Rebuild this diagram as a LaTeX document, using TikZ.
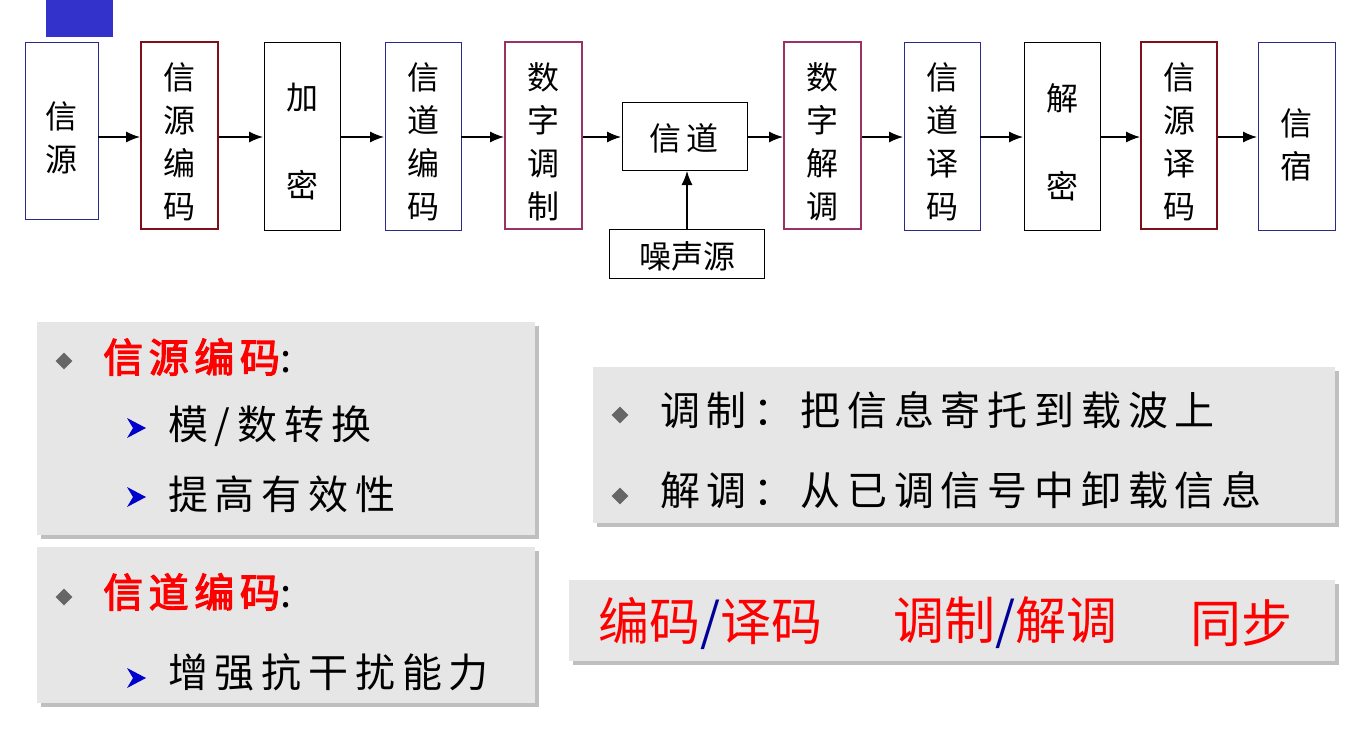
\documentclass[tikz,border=0pt]{standalone}
\usepackage{fontspec}
\setmainfont{Noto Sans CJK SC}
\newfontfamily\cjkb[FakeBold=3,LetterSpace=14]{Noto Sans CJK SC}
\newfontfamily\cjks[LetterSpace=17]{Noto Sans CJK SC}
\usetikzlibrary{arrows.meta,shapes.geometric}
\definecolor{dred}{HTML}{7F0F1A}
\definecolor{purp}{HTML}{993366}
\definecolor{bblue}{HTML}{2A2A8C}
\definecolor{topblue}{HTML}{3333CC}
\definecolor{panel}{HTML}{E6E6E6}
\tikzset{
  thinb/.style={draw=black,line width=1pt},
  blueb/.style={draw=bblue,line width=1pt},
  redb/.style={draw=dred,line width=2.5pt},
  purb/.style={draw=purp,line width=2.5pt},
  lab/.style={font=\fontsize{32}{43}\selectfont,align=center,inner sep=0pt},
  arr/.style={-{Latex[length=14pt,width=11pt]},line width=1.2pt},
  pnl/.style={fill=panel,draw=none},
  shd/.style={fill=black!25,draw=none},
  dia/.style={diamond,fill=black!60,minimum size=17pt,inner sep=0pt},
  txt/.style={anchor=west,inner sep=0pt,font=\fontsize{40}{44}\selectfont\cjks},
  big/.style={anchor=west,inner sep=0pt,text=red,font=\fontsize{51}{55}\selectfont},
}
\newcommand{\bul}[2]{\fill[blue!80!black] (#1-9,#2-10) -- (#1+10,#2) -- (#1-9,#2+10) -- (#1-3,#2) -- cycle;}
\begin{document}
\begin{tikzpicture}[x=1pt,y=-1pt]
\useasboundingbox (0,0) rectangle (1368,753);
\fill[white] (0,0) rectangle (1368,753);
\fill[topblue] (46,0) rectangle (113,37);
% boxes
\draw[blueb] (25,42) rectangle (98,219);
\node[lab] (b1) at (61,138) {信\\源};
\draw[redb] (141,42) rectangle (218,229);
\node[lab] (b2) at (179,142) {信\\源\\编\\码};
\draw[thinb] (264,42) rectangle (340,230);
\node[lab,font=\fontsize{32}{88}\selectfont] (b3) at (302,142) {加\\密};
\draw[blueb] (385,42) rectangle (461,230);
\node[lab] (b4) at (423,142) {信\\道\\编\\码};
\draw[purb] (505,42) rectangle (582,229);
\node[lab] (b5) at (543,142) {数\\字\\调\\制};
\draw[thinb] (622,102) rectangle (747,170);
\node[lab] (b6) at (684,138) {信\,道};
\draw[purb] (784,42) rectangle (861,229);
\node[lab] (b7) at (822,142) {数\\字\\解\\调};
\draw[blueb] (904,42) rectangle (980,230);
\node[lab] (b8) at (942,142) {信\\道\\译\\码};
\draw[thinb] (1024,42) rectangle (1100,230);
\node[lab,font=\fontsize{32}{88}\selectfont] (b9) at (1062,142) {解\\密};
\draw[redb] (1141,42) rectangle (1217,229);
\node[lab] (b10) at (1179,142) {信\\源\\译\\码};
\draw[blueb] (1258,42) rectangle (1335,230);
\node[lab] (b11) at (1296,145) {信\\宿};
\draw[thinb] (609,229) rectangle (764,278);
\node[lab] (ns) at (687,256) {噪声源};
% connectors
\draw[arr] (98,137) -- (140,137);
\draw[arr] (219,137) -- (263,137);
\draw[arr] (340,137) -- (384,137);
\draw[arr] (461,137) -- (504,137);
\draw[arr] (583,137) -- (621,137);
\draw[arr] (747,137) -- (783,137);
\draw[arr] (862,137) -- (903,137);
\draw[arr] (980,137) -- (1023,137);
\draw[arr] (1100,137) -- (1140,137);
\draw[arr] (1218,137) -- (1257,137);
\draw[arr] (687,229) -- (687,171);
% panels
\fill[shd] (41,326) rectangle (539,539);
\fill[pnl] (37,322) rectangle (535,535);
\fill[shd] (41,551) rectangle (539,707);
\fill[pnl] (37,547) rectangle (535,703);
\fill[shd] (597,371) rectangle (1339,527);
\fill[pnl] (593,367) rectangle (1335,523);
\fill[shd] (573,584) rectangle (1339,665);
\fill[pnl] (569,580) rectangle (1335,661);
% panel A
\node[dia] (d1) at (64,361) {};
\node[txt,text=red] (t1) at (103,357) {\cjkb 信源编码\cjks\color{black}:};
\bul{136}{428}
\node[txt] (t2) at (168,426) {模/数转换};
\bul{136}{497}
\node[txt] (t3) at (168,494) {提高有效性};
% panel B
\node[dia] (d2) at (64,597) {};
\node[txt,text=red] (t4) at (103,592) {\cjkb 信道编码\cjks\color{black}:};
\bul{136}{678}
\node[txt] (t5) at (168,672) {增强抗干扰能力};
% panel C
\node[dia] (d3) at (620,415) {};
\node[txt] (t6) at (660,410) {调制：把信息寄托到载波上};
\node[dia] (d4) at (620,496) {};
\node[txt] (t7) at (660,490) {解调：从已调信号中卸载信息};
% panel D
\node[big] (t8) at (598,623) {编码\textcolor{blue!60!black}{/}译码};
\node[big] (t9) at (893,623) {调制\textcolor{blue!60!black}{/}解调};
\node[big] (t10) at (1190,623) {同步};
\end{tikzpicture}
\end{document}
